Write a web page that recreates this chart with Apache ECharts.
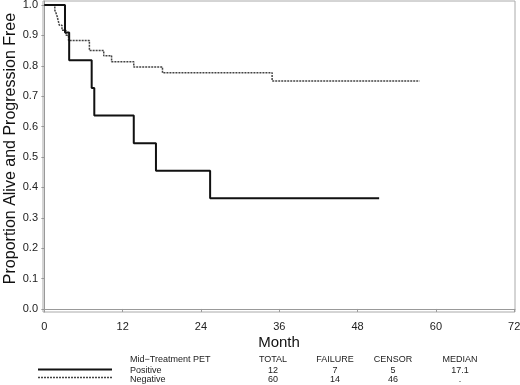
<!DOCTYPE html>
<html>
<head>
<meta charset="utf-8">
<script src="https://cdn.jsdelivr.net/npm/echarts@6/dist/echarts.min.js"></script>
<style>
  html, body { margin: 0; padding: 0; background: #fff; }
  #km { width: 520px; height: 385px; }
</style>
</head>
<body>
<div id="km"></div>
<script>
// Kaplan-Meier steps: [month, proportion after the step]
var positiveSteps = [[0, 1.0], [3.16, 0.909], [3.8, 0.818], [7.25, 0.727], [7.65, 0.636],
  [13.7, 0.545], [17.1, 0.455], [25.4, 0.364], [51.3, 0.364]];
var negativeSteps = [[0, 1.0], [1.6, 0.983], [1.9, 0.967], [2.1, 0.95], [2.3, 0.933],
  [2.7, 0.917], [3.3, 0.9], [3.7, 0.883], [6.9, 0.85], [9.1, 0.833], [10.3, 0.813],
  [13.7, 0.796], [18.1, 0.777], [34.9, 0.75], [57.5, 0.75]];

var monthTicks = [0, 12, 24, 36, 48, 60, 72];
var propTicks = [0, 0.1, 0.2, 0.3, 0.4, 0.5, 0.6, 0.7, 0.8, 0.9, 1.0];

// summary table under the chart
var tableHeader = ['Mid\u2212Treatment PET', 'TOTAL', 'FAILURE', 'CENSOR', 'MEDIAN'];
var groupNames = ['Positive', 'Negative'];
var totals = ['12', '60'];
var failures = ['7', '14'];
var censors = ['5', '46'];
var medians = ['17.1', '.'];

var chart = echarts.init(document.getElementById('km'));

var FONT = 'Liberation Sans, Arial, sans-serif';
var colX = [130, 273, 335, 393, 460];
var rowY = [360, 371, 380];

var graphics = [];
// header
tableHeader.forEach(function (t, i) {
  graphics.push({
    type: 'text', x: colX[i], y: rowY[0],
    style: { text: t, font: '9px ' + FONT, fill: '#222',
      align: i === 0 ? 'left' : 'center', verticalAlign: 'middle' }
  });
});
groupNames.forEach(function (g, r) {
  var vals = [g, totals[r], failures[r], censors[r], medians[r]];
  vals.forEach(function (t, i) {
    graphics.push({
      type: 'text', x: colX[i], y: rowY[r + 1],
      style: { text: t, font: '9px ' + FONT, fill: '#222',
        align: i === 0 ? 'left' : 'center', verticalAlign: 'middle' }
    });
  });
});
// legend line samples
graphics.push({
  type: 'line', shape: { x1: 38, y1: 369.5, x2: 112, y2: 369.5 },
  style: { stroke: '#111', lineWidth: 2 }
});
graphics.push({
  type: 'line', shape: { x1: 38, y1: 377.5, x2: 112, y2: 377.5 },
  style: { stroke: '#444', lineWidth: 1.5, lineDash: [2, 1] }
});

var option = {
  animation: false,
  backgroundColor: '#fff',
  grid: { left: 43, right: 5, top: 1, bottom: 73, show: true, borderColor: '#aaa', borderWidth: 1,
    outerBoundsMode: 'none', containLabel: false },
  xAxis: {
    type: 'value', min: -0.21, max: 72.12,
    name: 'Month', nameLocation: 'middle', nameGap: 23, nameMoveOverlap: false,
    nameTextStyle: { fontFamily: FONT, fontSize: 15, color: '#111' },
    axisLine: { show: true, lineStyle: { color: '#999', width: 1 } },
    axisTick: { show: true, length: 3, lineStyle: { color: '#999' }, customValues: monthTicks },
    axisLabel: { fontFamily: FONT, fontSize: 11, color: '#222', margin: 9, customValues: monthTicks },
    splitLine: { show: false }
  },
  yAxis: {
    type: 'value', min: -0.01, max: 1.013,
    name: 'Proportion Alive and Progression Free', nameLocation: 'middle', nameGap: 24,
    nameMoveOverlap: false,
    nameTextStyle: { fontFamily: FONT, fontSize: 16, color: '#111', padding: [0, 0, 0, 16] },
    axisLine: { show: true, lineStyle: { color: '#999', width: 1 } },
    axisTick: { show: true, length: 3, lineStyle: { color: '#999' }, customValues: propTicks },
    axisLabel: { fontFamily: FONT, fontSize: 11, color: '#222', margin: 5, customValues: propTicks,
      formatter: function (v) { return v.toFixed(1); } },
    splitLine: { show: false }
  },
  series: [
    {
      name: 'Positive', type: 'line', step: 'end', data: positiveSteps,
      symbol: 'none', lineStyle: { color: '#111', width: 2 }, z: 3
    },
    {
      name: 'Negative', type: 'line', step: 'end', data: negativeSteps,
      symbol: 'none', lineStyle: { color: '#444', width: 1.5, type: [2, 1] }, z: 2
    }
  ],
  graphic: graphics
};

chart.setOption(option);
</script>
</body>
</html>
